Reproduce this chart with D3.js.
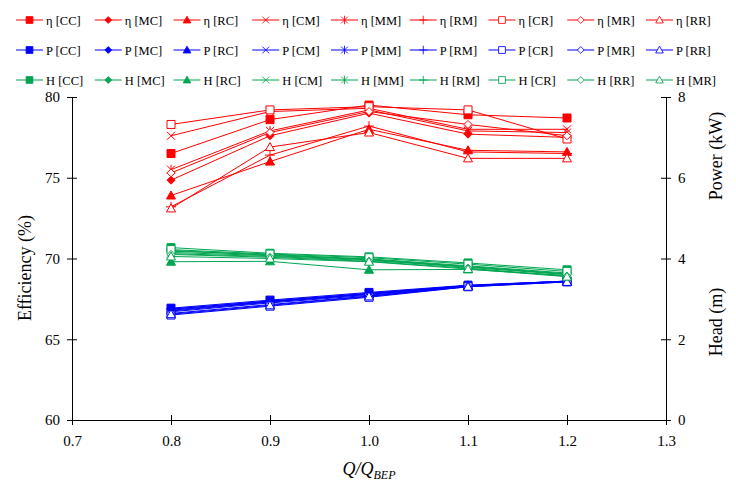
<!DOCTYPE html>
<html>
<head>
<meta charset="utf-8">
<script src="https://cdn.jsdelivr.net/npm/d3@7"></script>
<style>
  body { margin: 0; background: #fff; }
  text { font-family: "Liberation Serif", "Times New Roman", serif; fill: #000; }
</style>
</head>
<body>
<div id="chart"></div>
<script>
// 1: DATA
const flowRatio = [0.8, 0.9, 1.0, 1.1, 1.2];
const configs = ["CC", "MC", "RC", "CM", "MM", "RM", "CR", "MR", "RR"];

// efficiency (%)
const effCC = [76.5, 78.6, 79.5, 78.9, 78.7];
const effMC = [74.85, 77.6, 79.0, 77.7, 77.5];
const effRC = [73.9, 76.0, 78.0, 76.7, 76.6];
const effCM = [77.6, 79.1, 79.3, 78.0, 78.0];
const effMM = [75.5, 77.9, 79.2, 77.9, 77.8];
const effRM = [73.2, 76.4, 78.2, 76.6, 76.5];
const effCR = [78.3, 79.2, 79.4, 79.2, 77.4];
const effMR = [75.3, 77.8, 79.1, 78.3, 77.6];
const effRR = [73.1, 76.9, 77.8, 76.2, 76.2];

// power (kW)
const powCC = [2.77, 2.97, 3.16, 3.34, 3.44];
const powMC = [2.74, 2.95, 3.14, 3.33, 3.44];
const powRC = [2.72, 2.93, 3.12, 3.32, 3.43];
const powCM = [2.68, 2.90, 3.09, 3.31, 3.43];
const powMM = [2.70, 2.92, 3.11, 3.32, 3.44];
const powRM = [2.75, 2.94, 3.13, 3.33, 3.44];
const powCR = [2.60, 2.82, 3.04, 3.30, 3.42];
const powMR = [2.64, 2.86, 3.07, 3.31, 3.43];
const powRR = [2.62, 2.84, 3.06, 3.30, 3.42];

// head (m)
const headCC = [4.27, 4.13, 4.04, 3.89, 3.72];
const headMC = [4.18, 4.10, 3.98, 3.80, 3.62];
const headRC = [3.92, 3.93, 3.72, 3.73, 3.58];
const headCM = [4.15, 4.07, 3.97, 3.78, 3.60];
const headMM = [4.12, 4.05, 3.95, 3.80, 3.61];
const headRM = [4.20, 4.08, 3.99, 3.82, 3.64];
const headCR = [4.22, 4.11, 4.02, 3.86, 3.68];
const headMR = [4.10, 4.03, 3.93, 3.76, 3.56];
const headRR = [4.05, 4.00, 3.92, 3.74, 3.55];

const xTicks = [0.7, 0.8, 0.9, 1.0, 1.1, 1.2, 1.3];
const leftTicks = [60, 65, 70, 75, 80];
const rightTicks = [0, 2, 4, 6, 8];

const effLabels = ["η [CC]", "η [MC]", "η [RC]", "η [CM]", "η [MM]", "η [RM]", "η [CR]", "η [MR]", "η [RR]"];
const powLabels = ["P [CC]", "P [MC]", "P [RC]", "P [CM]", "P [MM]", "P [RM]", "P [CR]", "P [MR]", "P [RR]"];
const headLabels = ["H [CC]", "H [MC]", "H [RC]", "H [CM]", "H [MM]", "H [RM]", "H [CR]", "H [RR]", "H [MR]"];

// 2: SETUP
const W = 736, H = 491;
const plot = { left: 72, right: 666, top: 97, bottom: 420 };
const red = "#ff0000", blue = "#0000ff", green = "#00a550";

const svg = d3.select("#chart").append("svg")
    .attr("width", W)
    .attr("height", H);

const x = d3.scaleLinear().domain([0.7, 1.3]).range([plot.left, plot.right]);
const yL = d3.scaleLinear().domain([60, 80]).range([plot.bottom, plot.top]);
const yR = d3.scaleLinear().domain([0, 8]).range([plot.bottom, plot.top]);

// marker for each configuration
const markerKind = {
    CC: ["square", true], MC: ["diamond", true], RC: ["triangle", true],
    CM: ["x", false], MM: ["asterisk", false], RM: ["plus", false],
    CR: ["square", false], MR: ["diamond", false], RR: ["triangle", false]
};

function markerPath(kind) {
    const p = d3.path();
    if (kind === "square") { p.rect(-4, -4, 8, 8); }
    else if (kind === "diamond") { p.moveTo(0, -4); p.lineTo(4, 0); p.lineTo(0, 4); p.lineTo(-4, 0); p.closePath(); }
    else if (kind === "triangle") { p.moveTo(0, -4.5); p.lineTo(4.5, 3.5); p.lineTo(-4.5, 3.5); p.closePath(); }
    else if (kind === "x") { p.moveTo(-4, -4); p.lineTo(4, 4); p.moveTo(4, -4); p.lineTo(-4, 4); }
    else if (kind === "asterisk") { p.moveTo(-4, -4); p.lineTo(4, 4); p.moveTo(4, -4); p.lineTo(-4, 4); p.moveTo(0, -5); p.lineTo(0, 5); }
    else if (kind === "plus") { p.moveTo(-5, 0); p.lineTo(5, 0); p.moveTo(0, -5); p.lineTo(0, 5); }
    return p.toString();
}

function drawMarker(g, cfg, color) {
    const [kind, filled] = markerKind[cfg];
    g.append("path")
        .attr("d", markerPath(kind))
        .attr("fill", filled ? color : (kind === "x" || kind === "asterisk" || kind === "plus" ? "none" : "#fff"))
        .attr("stroke", color)
        .attr("stroke-width", 1);
}

// build series table
const effSeries = [effCC, effMC, effRC, effCM, effMM, effRM, effCR, effMR, effRR];
const powSeries = [powCC, powMC, powRC, powCM, powMM, powRM, powCR, powMR, powRR];
const headSeries = [headCC, headMC, headRC, headCM, headMM, headRM, headCR, headMR, headRR];

const groups = [
    { values: effSeries, scale: yL, color: red },
    { values: powSeries, scale: yR, color: blue },
    { values: headSeries, scale: yR, color: green }
];

// 3: AXES
const axisG = svg.append("g");

axisG.append("g")
    .attr("transform", `translate(0,${plot.bottom})`)
    .call(d3.axisBottom(x).tickValues(xTicks).tickFormat(d3.format(".1f")).tickSize(5).tickSizeOuter(0).tickPadding(10))
    .call(g => g.selectAll(".tick line").attr("y1", -5))
    .call(g => g.selectAll("text").style("font-size", "15px").style("font-family", "Liberation Serif"));

axisG.append("g")
    .attr("transform", `translate(${plot.left},0)`)
    .call(d3.axisLeft(yL).tickValues(leftTicks).tickSize(5).tickSizeOuter(0).tickPadding(7))
    .call(g => g.selectAll(".tick line").attr("x1", 5))
    .call(g => g.selectAll("text").style("font-size", "15px").style("font-family", "Liberation Serif"));

axisG.append("g")
    .attr("transform", `translate(${plot.right},0)`)
    .call(d3.axisRight(yR).tickValues(rightTicks).tickSize(5).tickSizeOuter(0).tickPadding(7))
    .call(g => g.selectAll(".tick line").attr("x1", -5))
    .call(g => g.selectAll("text").style("font-size", "15px").style("font-family", "Liberation Serif"));

axisG.selectAll(".domain, .tick line").attr("stroke", "#000");

// 4: SERIES
groups.forEach(grp => {
    grp.values.forEach((vals, i) => {
        const cfg = configs[i];
        const pts = flowRatio.map((q, j) => [x(q), grp.scale(vals[j])]);
        svg.append("path")
            .attr("d", d3.line()(pts))
            .attr("fill", "none")
            .attr("stroke", grp.color)
            .attr("stroke-width", 1);
        pts.forEach(p => {
            const m = svg.append("g").attr("transform", `translate(${p[0]},${p[1]})`);
            drawMarker(m, cfg, grp.color);
        });
    });
});

// 5: LABELS
svg.append("text")
    .attr("transform", "translate(31,268) rotate(-90)")
    .attr("text-anchor", "middle")
    .style("font-size", "18px")
    .text("Efficiency (%)");

svg.append("text")
    .attr("transform", "translate(722,156) rotate(-90)")
    .attr("text-anchor", "middle")
    .style("font-size", "18px")
    .text("Power (kW)");

svg.append("text")
    .attr("transform", "translate(722,322) rotate(-90)")
    .attr("text-anchor", "middle")
    .style("font-size", "18px")
    .text("Head (m)");

const xl = svg.append("text")
    .attr("x", 369)
    .attr("y", 475)
    .attr("text-anchor", "middle")
    .style("font-size", "18px")
    .style("font-style", "italic");
xl.append("tspan").text("Q/Q");
xl.append("tspan").attr("dy", 4).style("font-size", "12px").text("BEP");

// 6: LEGEND
const legendRows = [
    { labels: effLabels, color: red, y: 20 },
    { labels: powLabels, color: blue, y: 50 },
    { labels: headLabels, color: green, y: 80 }
];
const legendCfg = ["CC", "MC", "RC", "CM", "MM", "RM", "CR", "MR", "RR"];

legendRows.forEach(row => {
    row.labels.forEach((lab, i) => {
        const x0 = 16 + i * 78.75;
        const g = svg.append("g").attr("transform", `translate(${x0},${row.y})`);
        g.append("line")
            .attr("x1", 0).attr("x2", 27)
            .attr("stroke", row.color).attr("stroke-width", 1);
        const m = g.append("g").attr("transform", "translate(13.5,0) scale(0.85)");
        drawMarker(m, legendCfg[i], row.color);
        g.append("text")
            .attr("x", 30)
            .attr("y", 4.5)
            .style("font-size", "12.5px")
            .text(lab);
    });
});
</script>
</body>
</html>
